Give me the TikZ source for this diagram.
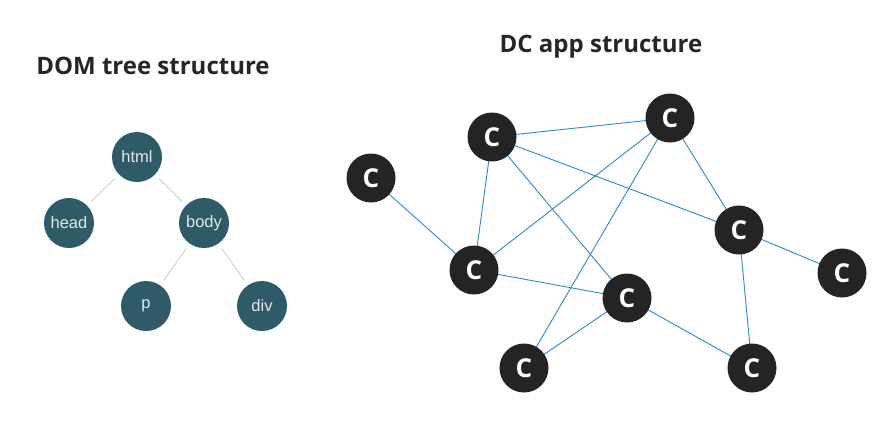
\documentclass[tikz,border=0pt]{standalone}
\usepackage{fontspec}
\setmainfont{Open Sans}
\newfontfamily\labelfont{Liberation Sans}
\definecolor{teal node}{HTML}{2F5B68}
\definecolor{teal text}{HTML}{E2E8EA}
\definecolor{dark node}{HTML}{242424}
\definecolor{link blue}{HTML}{2A89CF}
\definecolor{tree gray}{HTML}{CFCFCF}
\definecolor{title gray}{HTML}{262626}
\begin{document}
\begin{tikzpicture}[x=1pt,y=-1pt,
    tree node/.style={circle,fill=teal node,minimum size=50pt,inner sep=0pt,text=teal text,font=\labelfont\fontsize{16.5}{16.5}\selectfont},
    app node/.style={circle,fill=dark node,minimum size=49pt,inner sep=0pt,text=white,font=\bfseries\fontsize{26}{26}\selectfont},
    tree edge/.style={draw=tree gray,line width=0.9pt,shorten >=6pt,shorten <=6pt},
    app edge/.style={draw=link blue,line width=0.9pt},
    title/.style={anchor=base,text=title gray,font=\bfseries\fontsize{24}{24}\selectfont}]
    \useasboundingbox (0,0) rectangle (892,424);
    % DOM tree
    \node[title] (t1) at (153,74) {DOM tree structure};
    \node[tree node] (html) at (137,157) {html};
    \node[tree node] (head) at (69,223) {head};
    \node[tree node] (body) at (204,223) {body};
    \node[tree node] (p)    at (146,306) {p};
    \node[tree node] (div)  at (262,306) {div};
    \draw[tree edge] (html) -- (head);
    \draw[tree edge] (html) -- (body);
    \draw[tree edge] (body) -- (p);
    \draw[tree edge] (body) -- (div);
    % DC app graph
    \node[title] (t2) at (601,52) {DC app structure};
    \coordinate (a) at (492,137);
    \coordinate (b) at (670,118);
    \coordinate (c) at (371,178);
    \coordinate (d) at (739,230);
    \coordinate (e) at (474,270);
    \coordinate (f) at (842,273);
    \coordinate (g) at (627,298);
    \coordinate (h) at (524,368);
    \coordinate (i) at (752,368);
    \foreach \u/\v in {a/b,a/e,a/g,a/d,b/e,b/h,b/d,c/e,e/g,g/h,g/i,d/f,d/i}
        \draw[app edge] (\u) -- (\v);
    \foreach \n in {a,b,c,d,e,f,g,h,i}
        \node[app node] (\n c) at (\n) {C};
\end{tikzpicture}
\end{document}
